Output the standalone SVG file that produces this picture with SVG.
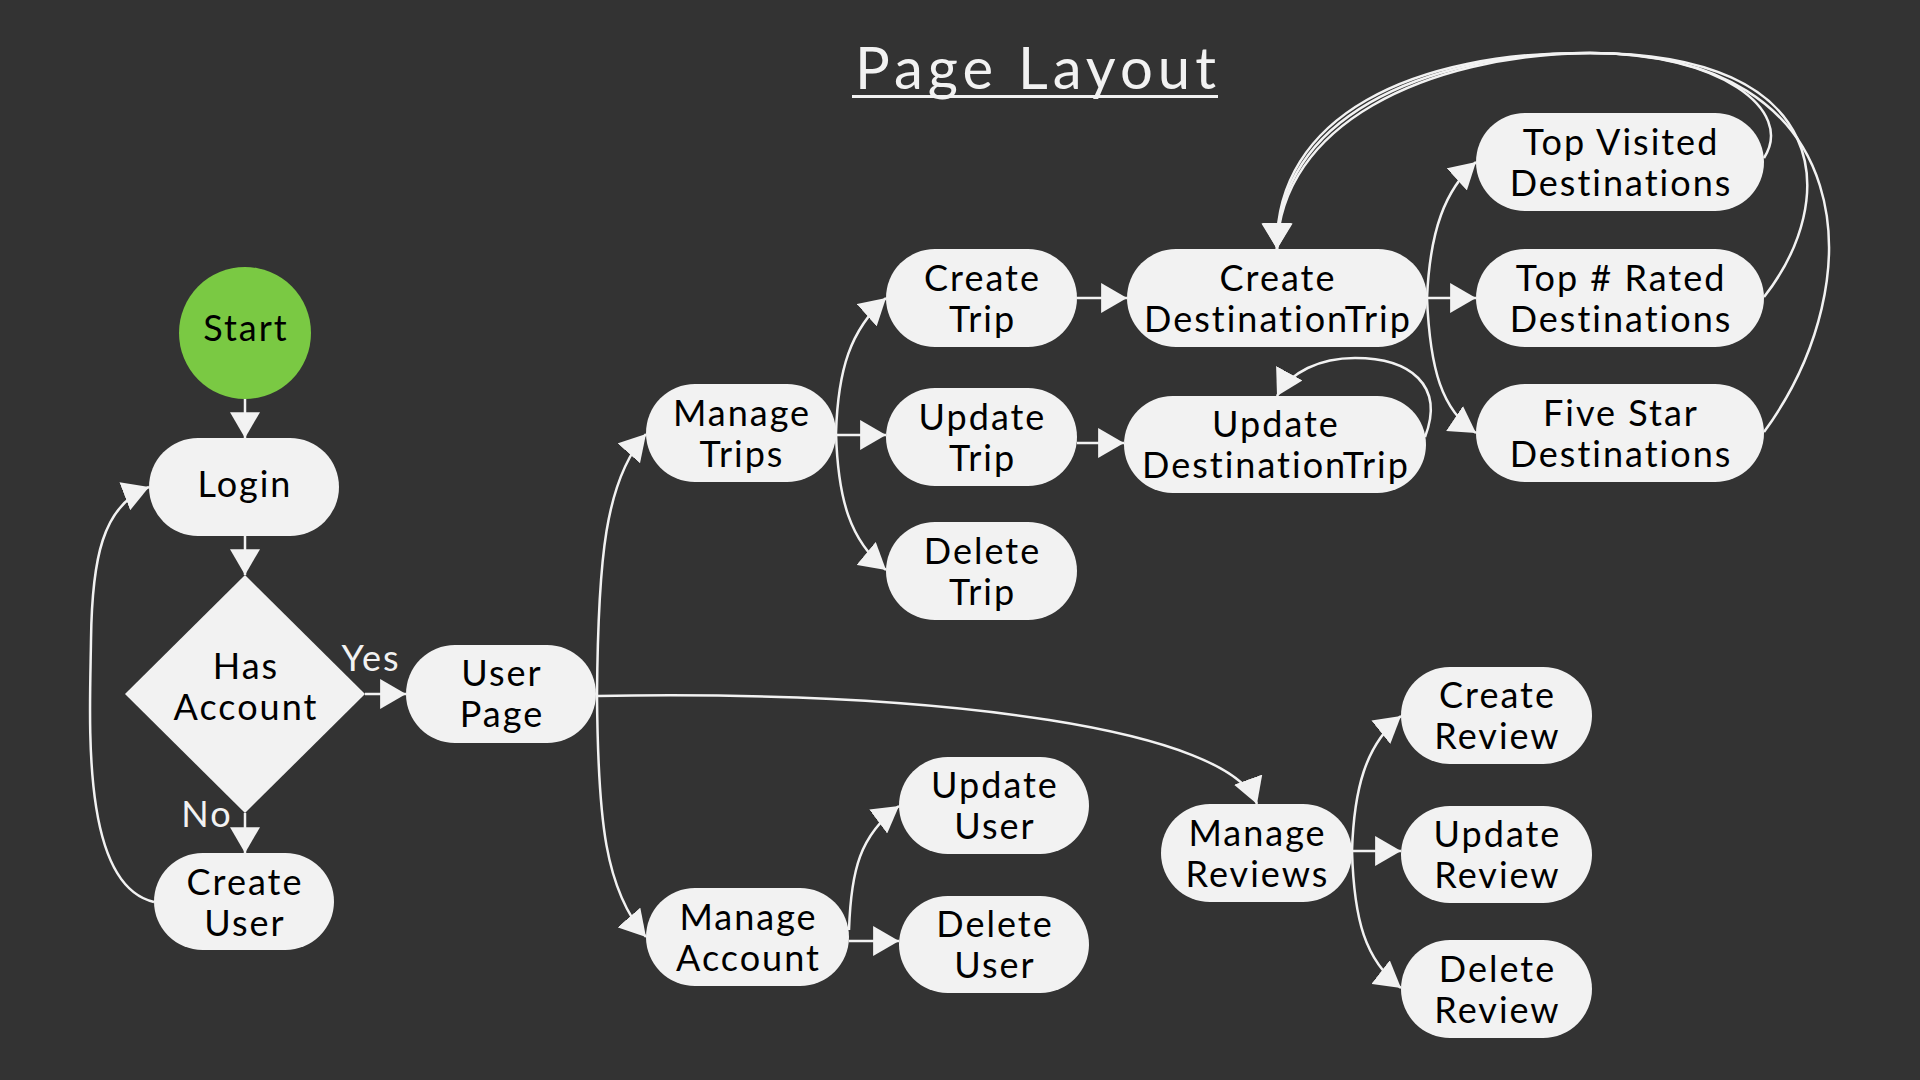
<svg xmlns="http://www.w3.org/2000/svg" width="1920" height="1080" viewBox="0 0 1920 1080">
<defs>
<style>
.bg{fill:#333333}
.node{fill:#f2f2f2}
.start{fill:#7ac943}
.t{font-family:Lato,"Noto Sans","Liberation Sans",sans-serif;font-size:36px;letter-spacing:2px;fill:#000000;text-anchor:middle}
.lbl{font-family:Lato,"Noto Sans","Liberation Sans",sans-serif;font-size:36px;letter-spacing:2px;fill:#f2f2f2;text-anchor:middle}
.title{font-family:Lato,"Noto Sans","Liberation Sans",sans-serif;font-size:58px;letter-spacing:5px;fill:#f2f2f2;text-anchor:middle}
.c{fill:none;stroke:#f2f2f2;stroke-width:2.5;marker-end:url(#ah)}
</style>
<marker id="ah" markerUnits="userSpaceOnUse" markerWidth="26" markerHeight="30" viewBox="0 0 25 29" refX="25" refY="14.5" orient="auto">
<path d="M0,0 L25,14.5 L0,29 Z" fill="#f2f2f2"/>
</marker>
</defs>
<rect class="bg" x="0" y="0" width="1920" height="1080"/>
<g id="title">
<text class="title" x="1038" y="89">Page Layout</text>
<rect x="852" y="95" width="366" height="3" fill="#f2f2f2"/>
</g>
<g id="connectors">
<path class="c" d="M245,399 L245,438"/>
<path class="c" d="M245,536 L245,575"/>
<path class="c" d="M365,694 L406,694"/>
<path class="c" d="M245,813 L245,853"/>
<path class="c" d="M154,902 C80,885 90,720 91,640 C92,560 102,505 149,487"/>
<path class="c" d="M597,696 C598,560 605,480 646,434"/>
<path class="c" d="M597,696 C598,820 605,890 646,937"/>
<path class="c" d="M597,696 C950,690 1230,730 1257,804"/>
<path class="c" d="M836,433 C838,370 850,330 886,298"/>
<path class="c" d="M836,435 L886,435"/>
<path class="c" d="M836,433 C838,500 850,540 886,570"/>
<path class="c" d="M1077,298 L1127,298"/>
<path class="c" d="M1077,443 L1124,443"/>
<path class="c" d="M1427,298 C1430,230 1445,190 1476,162"/>
<path class="c" d="M1427,298 L1476,298"/>
<path class="c" d="M1427,298 C1430,370 1442,410 1476,433"/>
<path class="c" d="M1425,437 C1445,385 1410,358 1355,358 C1320,358 1290,372 1277,396"/>
<path class="c" d="M1764,158 C1795,110 1720,53 1590,53 C1425,55 1280,125 1277,249"/>
<path class="c" d="M1764,297 C1840,200 1835,53 1590,53 C1420,53 1277,120 1277,249"/>
<path class="c" d="M1764,432 C1875,280 1860,53 1590,53 C1415,51 1274,115 1277,249"/>
<path class="c" d="M849,930 C851,870 860,835 899,806"/>
<path class="c" d="M849,941 L899,941"/>
<path class="c" d="M1352,851 C1354,790 1365,745 1401,716"/>
<path class="c" d="M1352,851 L1401,851"/>
<path class="c" d="M1352,851 C1354,920 1365,960 1401,988"/>
<text class="lbl" x="371" y="671">Yes</text>
<text class="lbl" x="207" y="827">No</text>
</g>
<g id="start"><circle class="start" cx="245" cy="333" r="66"/><text class="t" x="246" y="341">Start</text></g>
<g id="login"><rect class="node" x="149" y="438" width="190" height="98" rx="49"/><text class="t" x="245" y="497">Login</text></g>
<g id="has-account"><polygon class="node" points="245,575 365,694 245,813 125,694"/><text class="t" x="246" y="679">Has</text><text class="t" x="246" y="720">Account</text></g>
<g id="create-user"><rect class="node" x="154" y="853" width="180" height="97" rx="48.5"/><text class="t" x="245" y="895">Create</text><text class="t" x="245" y="936">User</text></g>
<g id="user-page"><rect class="node" x="406" y="645" width="190" height="98" rx="49"/><text class="t" x="502" y="686">User</text><text class="t" x="502" y="727">Page</text></g>
<g id="manage-trips"><rect class="node" x="646" y="384" width="190" height="98" rx="49"/><text class="t" x="742" y="426">Manage</text><text class="t" x="742" y="467">Trips</text></g>
<g id="manage-account"><rect class="node" x="646" y="888" width="203" height="98" rx="49"/><text class="t" x="748.5" y="930">Manage</text><text class="t" x="748.5" y="971">Account</text></g>
<g id="create-trip"><rect class="node" x="886" y="249" width="191" height="98" rx="49"/><text class="t" x="982.5" y="291">Create</text><text class="t" x="982.5" y="332">Trip</text></g>
<g id="update-trip"><rect class="node" x="886" y="388" width="191" height="98" rx="49"/><text class="t" x="982.5" y="430">Update</text><text class="t" x="982.5" y="471">Trip</text></g>
<g id="delete-trip"><rect class="node" x="886" y="522" width="191" height="98" rx="49"/><text class="t" x="982.5" y="564">Delete</text><text class="t" x="982.5" y="605">Trip</text></g>
<g id="create-destinationtrip"><rect class="node" x="1127" y="249" width="300" height="98" rx="49"/><text class="t" x="1278" y="291">Create</text><text class="t" x="1278" y="332">DestinationTrip</text></g>
<g id="update-destinationtrip"><rect class="node" x="1124" y="396" width="302" height="97" rx="48.5"/><text class="t" x="1276" y="437">Update</text><text class="t" x="1276" y="478">DestinationTrip</text></g>
<g id="top-visited"><rect class="node" x="1476" y="113" width="288" height="98" rx="49"/><text class="t" x="1621" y="155">Top Visited</text><text class="t" x="1621" y="196">Destinations</text></g>
<g id="top-rated"><rect class="node" x="1476" y="249" width="288" height="98" rx="49"/><text class="t" x="1621" y="291">Top # Rated</text><text class="t" x="1621" y="332">Destinations</text></g>
<g id="five-star"><rect class="node" x="1476" y="384" width="288" height="98" rx="49"/><text class="t" x="1621" y="426">Five Star</text><text class="t" x="1621" y="467">Destinations</text></g>
<g id="update-user"><rect class="node" x="899" y="757" width="190" height="97" rx="48.5"/><text class="t" x="995" y="798">Update</text><text class="t" x="995" y="839">User</text></g>
<g id="delete-user"><rect class="node" x="899" y="896" width="190" height="97" rx="48.5"/><text class="t" x="995" y="937">Delete</text><text class="t" x="995" y="978">User</text></g>
<g id="manage-reviews"><rect class="node" x="1161" y="804" width="191" height="98" rx="49"/><text class="t" x="1257.5" y="846">Manage</text><text class="t" x="1257.5" y="887">Reviews</text></g>
<g id="create-review"><rect class="node" x="1401" y="667" width="191" height="97" rx="48.5"/><text class="t" x="1497.5" y="708">Create</text><text class="t" x="1497.5" y="749">Review</text></g>
<g id="update-review"><rect class="node" x="1401" y="806" width="191" height="97" rx="48.5"/><text class="t" x="1497.5" y="847">Update</text><text class="t" x="1497.5" y="888">Review</text></g>
<g id="delete-review"><rect class="node" x="1401" y="940" width="191" height="98" rx="49"/><text class="t" x="1497.5" y="982">Delete</text><text class="t" x="1497.5" y="1023">Review</text></g>
</svg>
